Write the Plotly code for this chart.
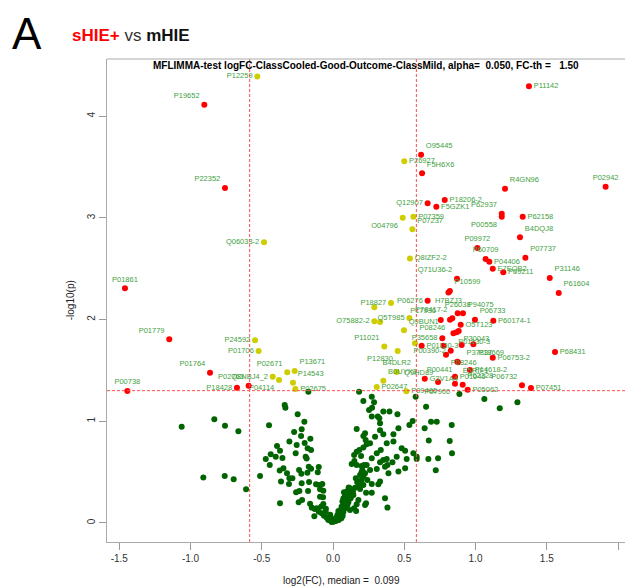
import plotly.graph_objects as go

# ---------------- data ----------------
# significant, log2FC above threshold (red, right side)
up_names = ["P11142", "O95445", "F5H6X6", "R4GN96", "P02942", "Q12907", "P18206-2", "F5GZK1",
            "P62937", "P00558", "P62158", "B4DQJ8", "P09972", "P60709", "P04406", "P07737",
            "E7EQB2", "P09211", "Q71U36-2", "P31146", "P61604", "P10599", "H7BZJ3", "P06276",
            "P17936", "P08246", "P78417-2", "P26038", "P94075", "P06733", "P60174-1", "O5T123",
            "P30043", "", "P01130-3", "P35658", "P01130-3", "", "P37837", "P18669",
            "P00390-2", "P08246", "P00441", "E5RIF1", "P06753-2", "P68431", "P14618-2", "Q9HD89",
            "G3V1A4", "P01040", "P07900", "P62328", "P05062", "P06732", "P07451"]
up_x = [1.375, 0.618, 0.625, 1.207, 1.913, 0.664, 0.784, 0.725,
        1.184, 1.184, 1.331, 1.312, 1.013, 1.071, 1.097, 1.350,
        1.121, 1.195, 0.870, 1.521, 1.584, 0.820, 0.810, 0.664,
        0.756, 0.821, 0.837, 0.875, 0.912, 0.996, 1.125, 0.896,
        0.882, 0.868, 0.845, 0.767, 0.622, 0.775, 0.903, 0.985,
        0.826, 0.793, 0.872, 0.877, 1.121, 1.558, 0.961, 0.737,
        0.644, 0.856, 0.856, 0.910, 0.945, 1.326, 1.389]
up_y = [4.294, 3.620, 3.438, 3.287, 3.307, 3.143, 3.176, 3.110,
        3.040, 3.010, 3.012, 2.809, 2.704, 2.596, 2.569, 2.609,
        2.500, 2.465, 2.402, 2.409, 2.262, 2.280, 2.265, 2.186,
        1.995, 1.999, 2.013, 2.062, 2.062, 1.999, 1.989, 1.950,
        1.888, 1.875, 1.865, 1.816, 1.743, 1.743, 1.750, 1.757,
        1.694, 1.655, 1.586, 1.580, 1.625, 1.681, 1.504, 1.387,
        1.419, 1.439, 1.370, 1.360, 1.311, 1.354, 1.327]

# significant, log2FC below threshold (red, left side)
down_names = ["P19652", "P22352", "P01861", "P01779", "P01764", "P02763", "P18428", "P00738"]
down_x = [-0.903, -0.758, -1.460, -1.149, -0.863, -0.592, -0.674, -1.443]
down_y = [4.113, 3.294, 2.308, 1.806, 1.478, 1.350, 1.330, 1.298]

# significant, small fold change (yellow)
mid_names = ["P12259", "Q06033-2", "P24592", "P01706", "P02671", "P13671", "Q8NBJ4_2", "P04114",
             "P14543", "P02675", "P26927", "O04796", "P07359", "P07237", "Q8IZF2-2", "P18827",
             "", "O75882-2", "", "Q5T985", "Q9BUN1", "P11021", "P12830", "",
             "B4DLR2", "B0UYX3", "P02647", "P09486"]
mid_x = [-0.531, -0.484, -0.547, -0.522, -0.321, -0.269, -0.423, -0.379,
         -0.281, -0.264, 0.500, 0.489, 0.564, 0.557, 0.540, 0.407,
         0.290, 0.290, 0.330, 0.536, 0.498, 0.360, 0.454, 0.575,
         0.447, 0.353, 0.307, 0.515]
mid_y = [4.389, 2.760, 1.796, 1.691, 1.482, 1.495, 1.439, 1.406,
         1.380, 1.318, 3.556, 3.002, 3.012, 2.888, 2.600, 2.163,
         2.120, 1.983, 1.976, 2.016, 1.895, 1.734, 1.691, 1.767,
         1.485, 1.399, 1.337, 1.295]

# not significant (dark green)
green_x = [-1.062, -0.833, -0.758, -0.664, -0.910, -0.760, -0.697, -0.610, -0.512, -0.449,
           -0.173, -0.339, -0.334, -0.248, -0.201, -0.220, -0.273, -0.224, -0.159, -0.199,
           -0.306, -0.393, -0.372, -0.402, -0.437, -0.472, -0.444, -0.355, -0.348, -0.374,
           -0.323, -0.306, -0.285, -0.365, -0.309, -0.255, -0.262, -0.238, -0.222, -0.178,
           -0.192, -0.185, -0.154, -0.170, -0.154, -0.180, -0.168, -0.220, -0.259, -0.236,
           -0.175, -0.119, -0.100, -0.107, -0.098, -0.075, -0.091, -0.068, -0.091, -0.070,
           -0.372, -0.241, -0.217, -0.161, -0.149, -0.128, -0.114, -0.131, -0.100, -0.082,
           -0.068, -0.079, -0.063, -0.051, -0.044, -0.033, -0.021, -0.009, 0.003, 0.014,
           0.021, 0.031, 0.040, 0.049, 0.059, 0.068, 0.061, 0.054, 0.038, 0.073,
           0.084, 0.073, 0.066, 0.073, 0.084, 0.077, 0.096, 0.108, 0.119, 0.115,
           0.131, 0.143, 0.124, 0.091, 0.108, 0.101, 0.119, 0.148, 0.162, 0.166,
           0.178, 0.232, 0.225, 0.185, 0.155, 0.190, 0.178, 0.201, 0.213, 0.190,
           0.225, 0.206, 0.218, 0.201, 0.166, 0.150, 0.131, 0.148, 0.166, 0.185,
           0.197, 0.213, 0.236, 0.260, 0.229, 0.213, 0.225, 0.166, 0.295, 0.330,
           0.353, 0.335, 0.307, 0.272, 0.236, 0.260, 0.307, 0.330, 0.353, 0.377,
           0.382, 0.365, 0.389, 0.330, 0.318, 0.272, 0.241, 0.213, 0.232, 0.272,
           0.365, 0.382, 0.424, 0.459, 0.424, 0.377, 0.447, 0.482, 0.506, 0.517,
           0.564, 0.587, 0.587, 0.506, 0.459, 0.417, 0.213, 0.272, 0.288, 0.253,
           0.274, 0.272, 0.314, 0.325, 0.353, 0.396, 0.452, 0.330, 0.536, 0.559,
           0.580, 0.183, 0.643, 0.653, 0.688, 0.728, 0.833, 0.672, 0.819, 0.835,
           0.669, 0.737, 0.721, 0.887, 1.062, 1.170, 1.294,
           0.100, 0.120, 0.090, 0.140, 0.110, 0.060, 0.040, -0.020, -0.050, 0.020,
           -0.010, 0.170, 0.200, 0.160]
green_y = [0.947, 1.019, 0.957, 0.901, 0.446, 0.462, 0.429, 0.331, 0.462, 0.960,
           1.291, 1.160, 1.134, 1.069, 0.996, 0.921, 0.895, 0.856, 0.829, 0.787,
           0.800, 0.757, 0.711, 0.652, 0.675, 0.629, 0.570, 0.639, 0.538, 0.515,
           0.488, 0.439, 0.439, 0.407, 0.384, 0.767, 0.685, 0.521, 0.485, 0.734,
           0.652, 0.633, 0.718, 0.554, 0.534, 0.495, 0.403, 0.390, 0.302, 0.315,
           0.315, 0.380, 0.551, 0.498, 0.374, 0.384, 0.331, 0.318, 0.259, 0.253,
           0.193, 0.203, 0.226, 0.190, 0.151, 0.138, 0.144, 0.066, 0.111, 0.161,
           0.187, 0.095, 0.072, 0.111, 0.052, 0.030, 0.062, 0.039, 0.013, 0.030,
           0.052, 0.079, 0.030, 0.052, 0.046, 0.072, 0.095, 0.128, 0.118, 0.111,
           0.144, 0.177, 0.210, 0.243, 0.275, 0.302, 0.308, 0.324, 0.341, 0.292,
           0.308, 0.275, 0.243, 0.226, 0.203, 0.177, 0.128, 0.144, 0.118, 0.184,
           0.226, 0.193, 0.177, 0.374, 0.347, 0.334, 0.406, 0.423, 0.456, 0.472,
           0.488, 0.521, 0.570, 0.560, 0.570, 0.610, 0.580, 0.669, 0.701, 0.718,
           0.659, 0.741, 0.773, 0.783, 0.816, 0.856, 0.882, 0.924, 0.849, 0.911,
           0.872, 0.718, 0.685, 0.636, 0.570, 0.521, 0.531, 0.597, 0.620, 0.629,
           0.570, 0.554, 0.488, 0.407, 0.380, 0.384, 0.423, 0.374, 0.298, 0.298,
           0.243, 0.151, 0.872, 0.931, 0.800, 0.783, 0.652, 0.734, 0.711, 0.629,
           0.685, 0.652, 0.629, 0.538, 0.505, 0.597, 1.200, 1.242, 1.187, 1.111,
           1.134, 1.046, 1.046, 1.029, 1.095, 1.095, 1.069, 0.980, 0.964, 1.003,
           1.242, 1.291, 0.931, 1.144, 0.996, 0.996, 0.964, 0.810, 0.806, 0.685,
           0.629, 0.636, 0.518, 1.268, 1.219, 1.128, 1.187,
           0.290, 0.270, 0.250, 0.310, 0.350, 0.160, 0.100, 0.080, 0.140, 0.020,
           0.010, 0.400, 0.500, 0.440]

x_ticks = [-1.5, -1.0, -0.5, 0.0, 0.5, 1.0, 1.5, 2.0]
x_tick_labels = ["-1.5", "-1.0", "-0.5", "0.0", "0.5", "1.0", "1.5", "2.0"]
y_ticks = [0, 1, 2, 3, 4]
y_tick_labels = ["0", "1", "2", "3", "4"]

fc_threshold = 0.585   # log2(1.5)
p_threshold = 1.301    # -log10(0.05)

# ---------------- label placement (style) ----------------
up_pos = ["middle right", "top right", "top right", "top right", "top center", "middle left", "middle right", "middle right",
          "top left", "bottom left", "middle right", "top right", "top center", "top center", "middle right", "top right",
          "middle right", "middle right", "top left", "top right", "top right", "top right", "bottom center", "middle left",
          "top left", "bottom left", "top left", "top center", "top right", "top right", "middle right", "middle right",
          "bottom right", "middle right", "bottom right", "middle left", "middle right", "middle right", "bottom right", "bottom right",
          "middle left", "bottom right", "bottom left", "bottom right", "middle right", "middle right", "middle right", "top left",
          "middle right", "middle right", "bottom left", "top right", "middle right", "top left", "middle right"]
down_pos = ["top left", "top left", "top center", "top left", "top left", "top left", "middle left", "top center"]
mid_pos = ["middle left", "middle left", "middle left", "middle left", "top left", "top right", "middle left", "bottom left",
           "top right", "middle right", "middle right", "bottom left", "middle right", "top right", "middle right", "middle left",
           "middle left", "middle left", "middle right", "middle left", "top right", "top left", "bottom left", "middle right",
           "top center", "top right", "middle right", "middle right"]

FONT = "Liberation Sans, Arial, sans-serif"
LABEL_COLOR = "#3f9f3f"
LABEL_FONT = dict(family=FONT, size=7.5, color=LABEL_COLOR)

fig = go.Figure()
fig.add_trace(go.Scatter(x=green_x, y=green_y, mode="markers",
                         marker=dict(color="#006400", size=6, line=dict(width=0)),
                         hoverinfo="x+y"))
fig.add_trace(go.Scatter(x=mid_x, y=mid_y, mode="markers+text", text=mid_names,
                         textposition=mid_pos, textfont=LABEL_FONT,
                         marker=dict(color="#CDCD00", size=6, line=dict(width=0))))
fig.add_trace(go.Scatter(x=down_x, y=down_y, mode="markers+text", text=down_names,
                         textposition=down_pos, textfont=LABEL_FONT,
                         marker=dict(color="#FF0000", size=6, line=dict(width=0))))
fig.add_trace(go.Scatter(x=up_x, y=up_y, mode="markers+text", text=up_names,
                         textposition=up_pos, textfont=LABEL_FONT,
                         marker=dict(color="#FF0000", size=6, line=dict(width=0))))

dash_style = dict(color="#ff4d4d", width=1, dash="3px,2px")
shapes = [
    dict(type="line", xref="x", yref="paper", x0=-fc_threshold, x1=-fc_threshold, y0=0, y1=1, line=dash_style),
    dict(type="line", xref="x", yref="paper", x0=fc_threshold, x1=fc_threshold, y0=0, y1=1, line=dash_style),
    dict(type="line", xref="paper", yref="y", x0=0, x1=1, y0=p_threshold, y1=p_threshold, line=dash_style),
    dict(type="line", xref="paper", yref="paper", x0=0, x1=1, y0=1, y1=1, line=dict(color="#aaaaaa", width=1)),
]

annotations = [
    dict(text="A", xref="paper", yref="paper", x=-0.154, y=1.052, showarrow=False,
         font=dict(family=FONT, size=44, color="black"), xanchor="center", yanchor="middle"),
    dict(text="<b><span style='color:#ff0000'>sHIE+</span></b><span style='color:#333333'> vs </span><b>mHIE</b>",
         xref="paper", yref="paper", x=-0.072, y=1.049, showarrow=False,
         font=dict(family=FONT, size=17, color="#111111"), xanchor="left", yanchor="middle"),
    dict(text="<b>MFLIMMA-test logFC-ClassCooled-Good-Outcome-ClassMild, alpha=\u00a0 0.050, FC-th =\u00a0\u00a0 1.50</b>",
         xref="paper", yref="paper", x=0.5, y=0.986, showarrow=False,
         font=dict(family=FONT, size=10, color="black"), xanchor="center", yanchor="middle"),
    dict(text="log2(FC), median =\u00a0 0.099", xref="paper", yref="paper", x=0.452, y=-0.079,
         showarrow=False, font=dict(family=FONT, size=10, color="#222222"),
         xanchor="center", yanchor="middle"),
    dict(text="-log10(p)", xref="paper", yref="paper", x=-0.07, y=0.5, textangle=-90,
         showarrow=False, font=dict(family=FONT, size=10, color="#222222"),
         xanchor="center", yanchor="middle"),
]

fig.update_layout(
    width=625, height=587,
    margin=dict(l=107, r=0, t=59, b=45),
    paper_bgcolor="white", plot_bgcolor="white",
    showlegend=False,
    shapes=shapes, annotations=annotations,
    xaxis=dict(range=[-1.586, 2.049], tickvals=x_ticks, ticktext=x_tick_labels,
               ticks="outside", ticklen=7, tickcolor="#999999", tickwidth=1,
               showline=True, linecolor="#aaaaaa", linewidth=1,
               showgrid=False, zeroline=False,
               tickfont=dict(family=FONT, size=10, color="#333333")),
    yaxis=dict(range=[-0.187, 4.562], tickvals=y_ticks, ticktext=y_tick_labels,
               tickangle=-90,
               ticks="outside", ticklen=7, tickcolor="#999999", tickwidth=1,
               showline=True, linecolor="#aaaaaa", linewidth=1,
               showgrid=False, zeroline=False,
               tickfont=dict(family=FONT, size=10, color="#333333")),
)

fig.write_html("out.html")
